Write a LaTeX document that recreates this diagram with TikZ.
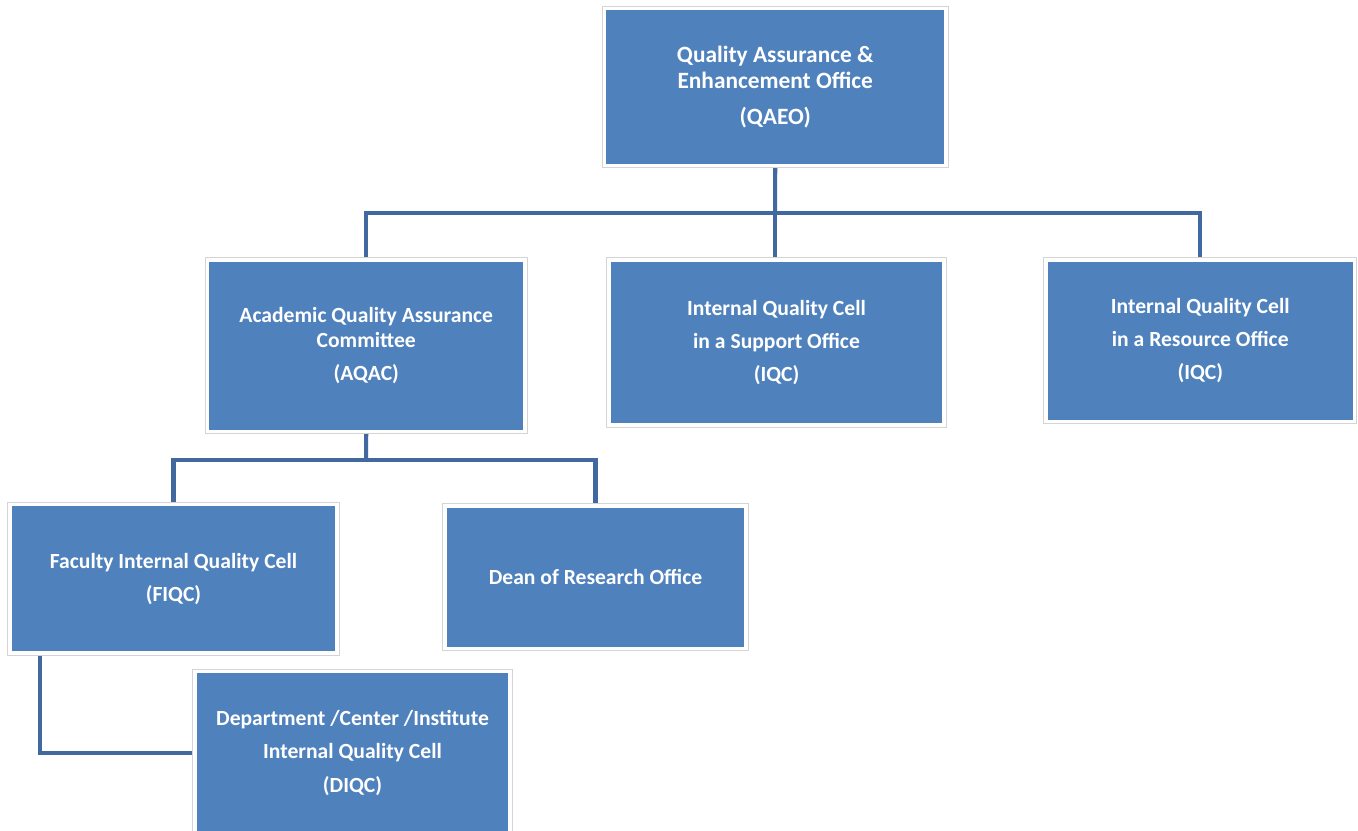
\documentclass[tikz,border=0pt]{standalone}
\usepackage{fontspec}
\setmainfont{Carlito}
\usepackage{tikz}
\usetikzlibrary{positioning, calc, backgrounds}
\definecolor{boxblue}{RGB}{79,129,189}
\definecolor{linkblue}{RGB}{65,105,160}
\definecolor{rimgray}{RGB}{212,212,212}
\tikzset{
  unit/.style={rectangle, fill=boxblue, draw=white, line width=2.2pt,
    preaction={draw=rimgray, line width=3.1pt},
    text=white, align=center, inner sep=0pt,
    font=\fontsize{12.3}{14.2}\selectfont\bfseries},
  topunit/.style={unit, font=\fontsize{13.3}{14.8}\selectfont\bfseries},
  link/.style={line width=2.3pt, color=linkblue}
}

\begin{document}
\begin{tikzpicture}[x=0.02cm, y=-0.02cm]
  \useasboundingbox (0,0) rectangle (1358,831);
  \clip (0,0) rectangle (1358,831);

  % Top office
  \node[topunit, minimum width=6.83cm, minimum height=3.14cm] (qaeo) at (775.25,87)
    {Quality Assurance \&\\Enhancement Office\\[5.7pt](QAEO)};

  % Second level
  \node[unit, minimum width=6.35cm, minimum height=3.43cm] (aqac) at (366.25,345.75)
    {Academic Quality Assurance\\Committee\\[4.6pt](AQAC)};
  \node[unit, minimum width=6.70cm, minimum height=3.30cm] (iqcs) at (776.5,342.5)
    {Internal Quality Cell\\[4.6pt]in a Support Office\\[4.6pt](IQC)};
  \node[unit, minimum width=6.17cm, minimum height=3.23cm] (iqcr) at (1200.25,340.75)
    {Internal Quality Cell\\[4.6pt]in a Resource Office\\[4.6pt](IQC)};

  % Third level
  \node[unit, minimum width=6.54cm, minimum height=2.97cm] (fiqc) at (173.5,578.75)
    {Faculty Internal Quality Cell\\[4.6pt](FIQC)};
  \node[unit, minimum width=6.02cm, minimum height=2.85cm] (dean) at (595.5,577.25)
    {Dean of Research Office};
  \node[unit, minimum width=6.30cm, minimum height=3.26cm] (diqc) at (352.5,753)
    {Department /Center /Institute\\[4.6pt]Internal Quality Cell\\[4.6pt](DIQC)};

  % Connectors
  \coordinate (bus1) at (775,213);
  \coordinate (bus2) at (366,460);
  \begin{scope}[on background layer]
    \draw[link] (qaeo.south) -- (bus1);
    \draw[link] (aqac.north) |- (bus1) -| (iqcr.north);
    \draw[link] (bus1) -- (bus1 |- iqcs.north);
    \draw[link] (aqac.south) -- (bus2);
    \draw[link] (fiqc.north) |- (bus2) -| (dean.north);
    \draw[link] ([xshift=0.64cm]fiqc.south west) |- (diqc.west);
  \end{scope}
\end{tikzpicture}
\end{document}
